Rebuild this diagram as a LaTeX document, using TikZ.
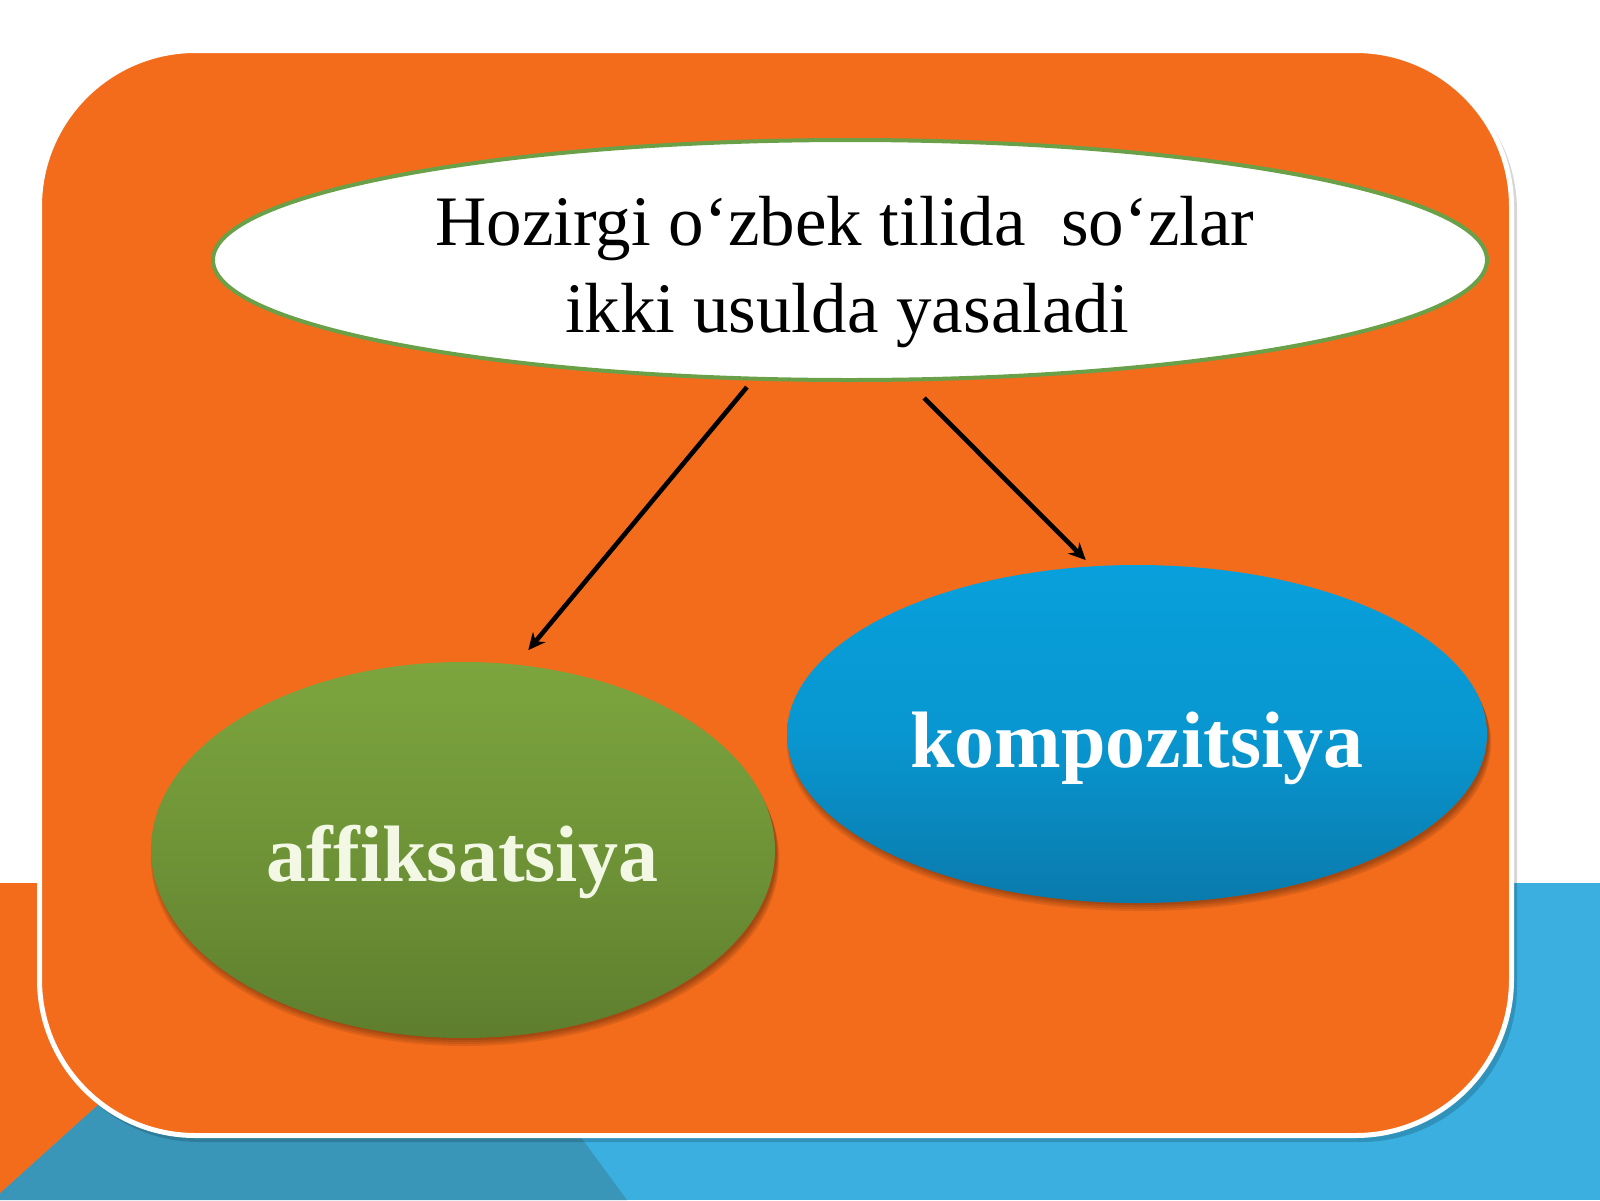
\documentclass[tikz,border=0pt]{standalone}
\usepackage{fontspec}
\setmainfont{Liberation Serif}
\usetikzlibrary{arrows.meta,shapes.geometric}
\definecolor{orng}{RGB}{243,108,28}
\definecolor{bandlight}{RGB}{58,175,224}
\definecolor{banddark}{RGB}{58,150,185}
\definecolor{grntop}{RGB}{124,165,62}
\definecolor{grnbot}{RGB}{94,126,46}
\definecolor{blutop}{RGB}{8,160,220}
\definecolor{blubot}{RGB}{10,122,172}
\definecolor{rimgreen}{RGB}{105,160,72}
\definecolor{cream}{RGB}{242,248,228}
\begin{document}
\begin{tikzpicture}[x=0.5pt,y=-0.5pt,
  oval/.style={ellipse, inner sep=0pt, outer sep=0pt},
  conn/.style={line width=2.3pt, -{Stealth[length=8.5pt,width=8pt]}, black},
  toptext/.style={anchor=base, font=\fontsize{35.5}{42}\selectfont, text=black, inner sep=0pt},
  bigtext/.style={anchor=base, font=\fontsize{40}{48}\selectfont\bfseries, inner sep=0pt},
  ovalshadow/.style={fill=black, opacity=0.09},
]
\useasboundingbox (0,0) rectangle (1600,1200);
\fill[white] (0,0) rectangle (1600,1200);
% bottom band
\fill[bandlight] (0,883) rectangle (1600,1200);
\fill[banddark] (344,883) -- (394,883) -- (627,1200) -- (0,1200) -- (0,1193) -- cycle;
\fill[orng] (0,883) -- (344,883) -- (0,1193) -- cycle;
% main box with shadow
\fill[black, opacity=0.16, rounded corners=78pt] (43,55) rectangle (1517,1142);
\draw[white, line width=2.5pt, fill=orng, rounded corners=78pt] (39.5,50.5) rectangle (1511.5,1135.5);
% shadows of the coloured ovals
\foreach \d in {2,4,6,8}{
  \fill[ovalshadow] (465,851+\d) ellipse [x radius=311+\d*0.4, y radius=187];
  \fill[ovalshadow] (1139,735+\d) ellipse [x radius=349+\d*0.4, y radius=168];
}
% ovals
\node[oval, draw=rimgreen, line width=2pt, fill=white, minimum width=637pt, minimum height=120pt] (top) at (850,260) {};
\node[oval, top color=grntop, bottom color=grnbot, middle color=grntop!55!grnbot, minimum width=312pt, minimum height=188pt] (affix) at (463,850) {};
\node[oval, top color=blutop, bottom color=blubot, middle color=blutop!75!blubot, minimum width=350pt, minimum height=169pt] (comp) at (1137,734) {};
% texts
\node[toptext] (t1) at (845,245) {Hozirgi o‘zbek tilida~~so‘zlar};
\node[toptext] (t2) at (847,332) {ikki usulda yasaladi};
\node[bigtext, text=cream] (affixlbl) at (462.5,881) {af{\kern0pt}f{\kern0pt}iksatsiya};
\node[bigtext, text=white] (complbl) at (1137,767) {kompozitsiya};
% connectors
\draw[conn, shorten <=5.5pt, shorten >=9.5pt] (top.231.6) -- (affix.74.86);
\draw[conn, shorten <=13pt, shorten >=4.5pt] (top.295.4) -- (comp.105.25);
\end{tikzpicture}
\end{document}
